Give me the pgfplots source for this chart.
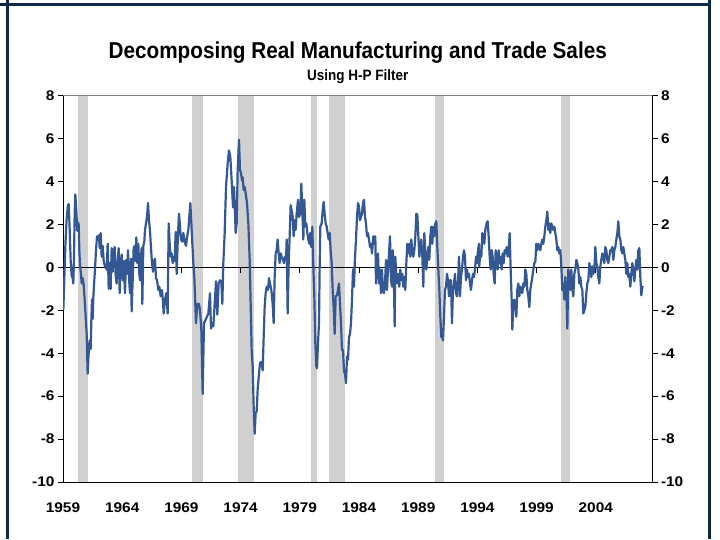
\documentclass[border=0pt]{standalone}
\usepackage{pgfplots}
\pgfplotsset{compat=1.18}
\usepackage{fontspec}
\setmainfont{Liberation Sans}
\newfontfamily\titlefont{Liberation Sans}[FakeStretch=0.9]
\newfontfamily\tickfont{Liberation Sans}[FakeStretch=1.1]
\definecolor{navy}{RGB}{12,40,68}
\definecolor{barc}{RGB}{208,208,208}
\definecolor{linec}{RGB}{52,88,148}
\pgfplotstableread{
yr v
1959.028 -2.0
1959.113 -0.5
1959.197 1.0
1959.310 2.3
1959.422 2.9
1959.479 2.95
1959.563 1.8
1959.648 0.3
1959.732 -0.4
1959.816 -0.5
1959.873 -0.75
1959.929 0.5
1959.985 2.5
1960.042 3.4
1960.126 2.6
1960.211 1.7
1960.267 2.1
1960.323 2.0
1960.380 0.8
1960.436 0.1
1960.520 -0.3
1960.577 -0.75
1960.661 -0.5
1960.745 -0.8
1960.830 -1.5
1960.914 -2.3
1960.999 -3.1
1961.083 -4.95
1961.168 -4.0
1961.252 -3.4
1961.337 -3.8
1961.393 -2.5
1961.449 -1.5
1961.506 -2.4
1961.562 -1.4
1961.618 -0.8
1961.703 -0.1
1961.787 0.8
1961.872 1.45
1961.956 1.35
1962.040 1.5
1962.097 0.9
1962.181 1.6
1962.266 0.5
1962.350 1.0
1962.435 0.3
1962.519 0.1
1962.604 0.0
1962.688 -0.1
1962.773 1.1
1962.857 -1.0
1962.941 0.2
1963.026 -1.0
1963.110 0.9
1963.195 -0.2
1963.279 0.7
1963.364 0.95
1963.448 -0.4
1963.533 -0.75
1963.617 0.3
1963.702 0.9
1963.786 -1.2
1963.870 0.2
1963.955 0.6
1964.039 -0.6
1964.124 0.3
1964.236 -1.2
1964.321 0.35
1964.405 -0.3
1964.490 0.8
1964.574 -0.5
1964.659 -1.2
1964.743 0.4
1964.800 -2.05
1964.884 -0.6
1964.968 0.9
1965.053 1.0
1965.109 0.3
1965.194 1.4
1965.278 0.2
1965.363 1.1
1965.447 -0.3
1965.503 -0.6
1965.588 0.5
1965.644 0.9
1965.700 -1.7
1965.785 1.0
1965.869 1.2
1965.926 1.75
1966.010 2.05
1966.095 2.35
1966.179 3.0
1966.263 2.2
1966.348 1.7
1966.432 0.9
1966.517 0.2
1966.601 -0.2
1966.686 0.3
1966.770 0.4
1966.855 -0.5
1966.939 -0.6
1967.052 -1.05
1967.136 -0.9
1967.249 -1.35
1967.361 -1.05
1967.446 -1.6
1967.502 -2.15
1967.615 -1.5
1967.727 -1.2
1967.840 -2.15
1967.925 2.05
1968.009 1.1
1968.093 0.5
1968.178 0.65
1968.262 0.2
1968.347 0.5
1968.431 0.3
1968.516 1.65
1968.600 -0.3
1968.713 1.6
1968.797 2.5
1968.882 1.9
1968.966 1.3
1969.079 1.2
1969.163 1.6
1969.276 1.2
1969.389 1.0
1969.473 1.4
1969.586 1.75
1969.670 2.35
1969.755 3.0
1969.867 1.75
1970.008 0.2
1970.092 -0.45
1970.233 -2.6
1970.346 -1.7
1970.486 -1.7
1970.571 -2.0
1970.683 -2.9
1970.796 -5.9
1970.909 -2.6
1971.078 -2.4
1971.275 -2.15
1971.415 -1.2
1971.500 -2.85
1971.613 -2.6
1971.697 -2.75
1971.810 -1.7
1971.922 -0.65
1972.035 -2.2
1972.147 -0.75
1972.260 -0.6
1972.373 -0.65
1972.457 -1.7
1972.542 0.2
1972.654 1.6
1972.767 3.75
1972.908 4.85
1973.020 5.45
1973.133 5.15
1973.245 4.05
1973.358 2.8
1973.442 3.75
1973.527 2.5
1973.583 1.6
1973.668 2.05
1973.752 4.55
1973.865 5.95
1973.949 4.55
1974.034 4.4
1974.118 4.05
1974.174 4.2
1974.259 3.6
1974.343 3.75
1974.428 3.45
1974.540 3.0
1974.653 2.05
1974.766 0.35
1974.850 -1.7
1974.935 -3.85
1975.019 -4.6
1975.104 -6.5
1975.188 -7.75
1975.272 -6.8
1975.357 -6.7
1975.441 -5.7
1975.554 -4.95
1975.638 -4.45
1975.751 -4.4
1975.864 -4.8
1975.948 -3.25
1976.033 -1.85
1976.117 -1.2
1976.201 -0.9
1976.314 -1.05
1976.399 -0.5
1976.483 -0.75
1976.596 -1.05
1976.708 -1.7
1976.793 -2.6
1976.877 -0.45
1976.962 0.65
1977.046 0.8
1977.130 1.3
1977.215 0.65
1977.299 0.2
1977.384 0.65
1977.468 0.5
1977.581 0.35
1977.665 0.2
1977.750 0.5
1977.834 0.35
1977.891 1.3
1977.975 -2.15
1978.060 0.2
1978.144 1.45
1978.228 2.9
1978.313 2.65
1978.397 2.35
1978.482 1.45
1978.566 2.2
1978.651 1.75
1978.735 2.5
1978.848 3.15
1978.932 2.35
1979.045 2.5
1979.129 3.9
1979.214 2.65
1979.298 1.3
1979.383 3.15
1979.467 1.9
1979.552 2.05
1979.636 1.6
1979.721 1.3
1979.805 1.1
1979.890 1.6
1979.974 0.95
1980.058 1.9
1980.143 0.05
1980.227 -1.35
1980.312 -3.55
1980.396 -4.6
1980.453 -4.7
1980.537 -3.55
1980.622 -2.6
1980.678 0.05
1980.734 1.9
1980.847 2.05
1980.931 2.65
1981.016 3.05
1981.100 2.5
1981.185 2.05
1981.269 1.9
1981.354 1.6
1981.438 1.3
1981.522 1.6
1981.607 0.8
1981.691 0.2
1981.776 -1.05
1981.860 -1.85
1981.945 -3.1
1982.029 -1.35
1982.142 -1.3
1982.226 -1.05
1982.311 -0.75
1982.395 -1.7
1982.480 -2.6
1982.564 -3.85
1982.649 -3.85
1982.733 -4.85
1982.817 -4.95
1982.902 -5.4
1982.986 -4.15
1983.071 -4.3
1983.155 -3.25
1983.240 -3.1
1983.324 -2.6
1983.409 -1.5
1983.493 -0.1
1983.578 -0.9
1983.662 0.5
1983.747 1.3
1983.831 2.35
1983.915 3.0
1984.000 2.85
1984.084 2.2
1984.169 2.35
1984.253 2.5
1984.338 3.0
1984.422 3.15
1984.507 2.35
1984.591 2.05
1984.676 1.45
1984.760 1.6
1984.845 1.3
1984.929 0.95
1985.013 1.1
1985.098 0.65
1985.210 1.45
1985.295 1.1
1985.379 1.45
1985.436 -0.75
1985.520 0.2
1985.605 0.65
1985.689 -0.75
1985.774 -0.1
1985.858 -1.2
1985.942 -0.1
1986.027 -1.05
1986.111 -1.2
1986.196 -0.75
1986.280 0.35
1986.365 -1.05
1986.449 -0.1
1986.534 0.65
1986.618 1.45
1986.703 -0.6
1986.787 -0.9
1986.843 0.8
1986.928 0.05
1987.012 -2.75
1987.069 0.5
1987.153 -0.45
1987.237 -0.75
1987.322 -0.3
1987.406 -0.9
1987.491 -0.1
1987.575 -0.6
1987.660 -0.3
1987.744 -0.9
1987.829 -0.45
1987.913 -1.05
1987.998 0.2
1988.082 1.1
1988.167 0.65
1988.251 1.1
1988.335 0.5
1988.420 1.3
1988.504 0.65
1988.589 0.5
1988.673 0.8
1988.758 1.45
1988.842 2.5
1988.927 2.45
1989.011 1.45
1989.096 0.5
1989.180 0.95
1989.264 1.3
1989.349 0.5
1989.433 -0.9
1989.518 1.6
1989.602 0.65
1989.687 -0.1
1989.771 0.5
1989.856 0.95
1989.940 0.35
1990.025 1.45
1990.109 1.9
1990.193 1.1
1990.278 1.9
1990.362 1.45
1990.447 2.05
1990.531 2.15
1990.616 0.95
1990.700 -0.1
1990.785 -1.05
1990.869 -2.3
1990.954 -3.25
1991.038 -3.25
1991.094 -3.4
1991.179 -2.3
1991.263 -1.05
1991.348 -0.9
1991.432 -0.3
1991.517 -0.6
1991.601 -1.35
1991.686 -0.6
1991.770 -0.6
1991.854 -2.6
1991.939 -1.05
1992.023 -0.75
1992.108 -0.3
1992.192 -1.2
1992.277 -1.35
1992.361 -0.75
1992.446 0.5
1992.530 -1.35
1992.615 -0.45
1992.699 -0.1
1992.784 0.5
1992.868 0.8
1992.953 0.5
1993.037 -0.6
1993.121 -0.1
1993.206 -0.45
1993.290 -0.3
1993.375 -0.75
1993.459 -1.05
1993.544 -0.6
1993.628 -0.3
1993.713 -0.45
1993.797 -0.1
1993.882 0.5
1993.966 0.2
1994.050 0.8
1994.135 1.1
1994.163 0.05
1994.247 0.8
1994.332 0.5
1994.416 1.6
1994.501 1.45
1994.585 1.1
1994.670 1.75
1994.782 2.05
1994.867 2.15
1994.951 1.45
1995.036 0.5
1995.120 -0.1
1995.205 0.8
1995.289 0.5
1995.374 -0.3
1995.458 -0.75
1995.543 0.8
1995.627 0.35
1995.711 -0.1
1995.796 0.8
1995.880 0.2
1995.965 0.5
1996.049 -0.1
1996.134 0.65
1996.218 0.2
1996.303 0.8
1996.387 0.65
1996.472 0.95
1996.556 0.5
1996.641 0.8
1996.725 1.6
1996.810 -0.1
1996.894 -1.5
1996.950 -2.9
1997.035 -1.7
1997.119 -1.5
1997.204 -1.85
1997.288 -2.3
1997.373 -1.05
1997.457 -0.75
1997.542 -1.35
1997.626 -0.9
1997.711 -1.05
1997.795 -1.2
1997.879 -0.75
1997.964 -0.9
1998.048 -0.1
1998.133 -0.3
1998.217 -1.05
1998.302 -1.35
1998.386 -1.85
1998.471 -1.05
1998.555 -0.75
1998.640 -0.45
1998.724 -0.1
1998.808 0.2
1998.893 0.25
1998.977 1.1
1999.062 0.8
1999.146 1.1
1999.231 0.95
1999.315 0.8
1999.400 1.1
1999.484 1.3
1999.569 1.1
1999.653 1.45
1999.738 1.9
1999.822 2.2
1999.907 2.6
1999.991 1.75
2000.075 2.05
2000.160 1.6
2000.244 2.05
2000.329 1.9
2000.413 1.75
2000.498 1.9
2000.582 1.6
2000.667 1.3
2000.751 0.8
2000.836 0.95
2000.920 0.65
2001.005 0.8
2001.089 0.05
2001.173 -1.05
2001.258 -0.75
2001.342 -1.5
2001.427 -0.45
2001.511 -1.05
2001.596 -2.85
2001.680 -0.1
2001.765 -0.45
2001.849 -1.05
2001.933 -0.1
2002.018 -1.05
2002.102 -1.35
2002.187 -0.3
2002.271 -0.1
2002.356 0.35
2002.440 0.2
2002.525 -0.1
2002.609 -0.75
2002.694 -0.45
2002.778 -0.9
2002.863 -1.05
2002.947 -2.15
2003.032 -2.0
2003.116 -1.85
2003.200 -1.2
2003.285 -0.75
2003.369 -0.6
2003.454 0.2
2003.538 -0.1
2003.623 -0.45
2003.707 0.05
2003.792 -0.3
2003.876 -0.1
2003.961 0.95
2004.045 0.2
2004.129 0.05
2004.214 -0.45
2004.298 -0.75
2004.383 0.05
2004.467 0.35
2004.552 0.65
2004.636 0.5
2004.721 0.2
2004.805 0.95
2004.890 0.8
2004.974 0.35
2005.059 0.2
2005.143 0.5
2005.228 0.8
2005.312 0.8
2005.396 0.95
2005.481 0.35
2005.565 0.8
2005.650 0.95
2005.734 1.3
2005.819 1.6
2005.903 2.15
2005.988 1.45
2006.072 1.3
2006.157 0.8
2006.241 0.65
2006.326 0.95
2006.410 0.65
2006.494 0.35
2006.579 -0.3
2006.663 0.2
2006.748 -0.45
2006.832 -0.3
2006.917 -0.9
2007.001 -0.3
2007.086 0.2
2007.170 -0.1
2007.255 -0.65
2007.339 -0.1
2007.424 0.35
2007.508 -0.1
2007.593 0.8
2007.677 0.9
2007.762 -0.45
2007.846 -1.3
2007.931 -0.9
2008.015 -0.93
}\salesdata
\pgfplotsset{
  base/.style={
    at={(63pt,57pt)}, anchor=south west, scale only axis,
    width=589.5pt, height=386.3pt,
    xmin=1959, xmax=2008.79, ymin=-10, ymax=8,
    ytick={-10,-8,-6,-4,-2,0,2,4,6,8},
    yticklabels={-10,-8,-6,-4,-2,0,2,4,6,8},
    tick align=outside, major tick length=5pt,
    tick style={black, line width=0.9pt},
    axis line style={black, line width=0.9pt},
    ticklabel style={font=\tickfont\bfseries\fontsize{14}{16}\selectfont},
  }
}
\begin{document}
\begin{tikzpicture}[x=1pt,y=1pt]
\useasboundingbox (0,0) rectangle (720,539);
\begin{axis}[base,
  xtick={1959,1964,1969,1974,1979,1984,1989,1994,1999,2004},
  xticklabels={1959,1964,1969,1974,1979,1984,1989,1994,1999,2004},
  xtick style={draw=none},
  xticklabel style={yshift=-12pt},
  ytick pos=left, xtick pos=bottom,
]
\addplot[fill=barc, draw=none] coordinates {(1960.27,-10) (1960.27,8) (1961.10,8) (1961.10,-10)} -- cycle;
\addplot[fill=barc, draw=none] coordinates {(1969.92,-10) (1969.92,8) (1970.82,8) (1970.82,-10)} -- cycle;
\addplot[fill=barc, draw=none] coordinates {(1973.82,-10) (1973.82,8) (1975.15,8) (1975.15,-10)} -- cycle;
\addplot[fill=barc, draw=none] coordinates {(1979.97,-10) (1979.97,8) (1980.45,8) (1980.45,-10)} -- cycle;
\addplot[fill=barc, draw=none] coordinates {(1981.48,-10) (1981.48,8) (1982.80,8) (1982.80,-10)} -- cycle;
\addplot[fill=barc, draw=none] coordinates {(1990.43,-10) (1990.43,8) (1991.16,8) (1991.16,-10)} -- cycle;
\addplot[fill=barc, draw=none] coordinates {(2001.08,-10) (2001.08,8) (2001.82,8) (2001.82,-10)} -- cycle;
\addplot[black, line width=0.9pt] coordinates {(1959,0) (2008.79,0)};
\addplot[black, line width=0.9pt, ycomb, no marks] coordinates {(1964,-0.24) (1969,-0.24) (1974,-0.24) (1979,-0.24) (1984,-0.24) (1989,-0.24) (1994,-0.24) (1999,-0.24) (2004,-0.24)};
\addplot[linec, line width=2.2pt, line join=round, no marks] table[x=yr, y=v] {\salesdata};
\draw[gray, line width=1pt] (rel axis cs:0,1) -- (rel axis cs:1,1);
\end{axis}
\begin{axis}[base, axis x line=none, axis y line*=right]
\addplot[draw=none] coordinates {(1960,0)};
\end{axis}
\node[anchor=base, font=\titlefont\bfseries\fontsize{23}{26}\selectfont] at (357.75,480) {Decomposing Real Manufacturing and Trade Sales};
\node[anchor=base, font=\titlefont\bfseries\fontsize{15}{17}\selectfont] at (357.75,458) {Using H-P Filter};
\draw[navy, line width=3pt] (0,534.5) -- (711,534.5);
\draw[navy, line width=3pt] (7,0) -- (7,539);
\draw[navy, line width=3pt] (709.5,0) -- (709.5,539);
\end{tikzpicture}
\end{document}
